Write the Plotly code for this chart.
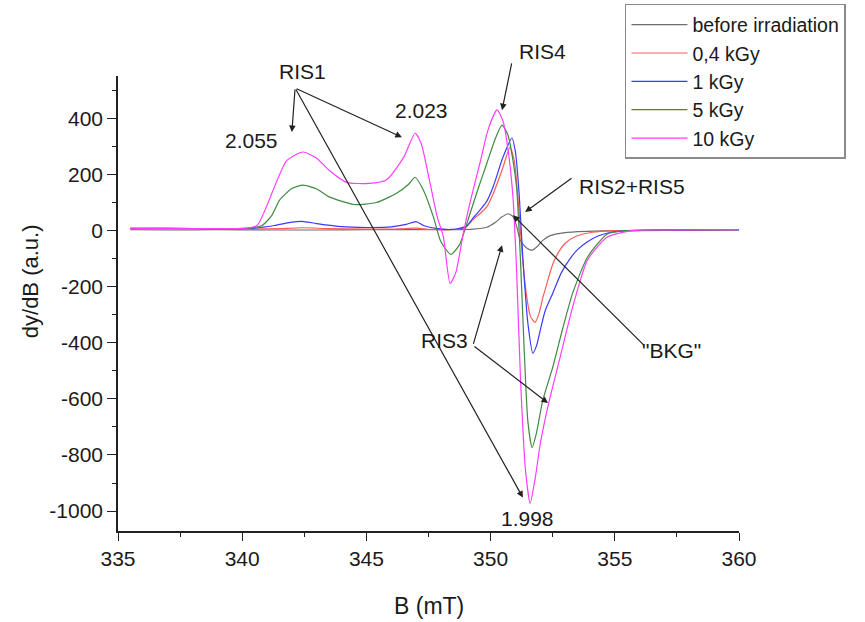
import plotly.graph_objects as go

# EPR first-derivative spectra of the sample before and after gamma irradiation
B_gray = [335.5, 337, 339, 341, 343, 345, 347, 348.5, 349.3, 349.85, 350.2, 350.45,
          350.7, 350.9, 351.05, 351.2, 351.45, 351.67, 351.9, 352.1, 352.4, 352.8,
          353.5, 354.5, 356, 358, 360]
y_gray = [3, 2, 3, 2, 2, 3, 3, 3, 5, 12, 30, 48,
          60, 50, 15, -35, -62, -70, -55, -35, -18, -10,
          -4, -1, 0, 1, 2]

B_red = [335.5, 337, 339, 340.5, 341.5, 342.4, 343.5, 345, 346.3, 347.0, 347.6,
         348.4, 349.0, 349.3, 349.57, 349.85, 350.1, 350.5, 350.78, 350.95, 351.1,
         351.25, 351.4, 351.6, 351.79, 351.95, 352.1, 352.27, 352.5, 352.75, 353.0,
         353.4, 354.1, 355, 356.5, 358, 360]
y_red = [6, 5, 5, 5, 7, 10, 7, 5, 6, 9, 4,
         3, 12, 40, 60, 85, 130, 226, 297, 250, 120,
         -60, -200, -305, -327, -295, -240, -188, -120, -75, -45,
         -22, -6, 0, 2, 2, 3]

B_blue = [335.5, 337, 339, 340.5, 341.3, 342.0, 342.4, 343, 344, 345, 346, 346.6,
          347.0, 347.3, 347.8, 348.4, 349.0, 349.3, 349.57, 349.85, 350.1, 350.5,
          350.86, 351.0, 351.15, 351.3, 351.5, 351.7, 351.85, 352.0, 352.2, 352.5,
          352.85, 353.2, 353.5, 353.9, 354.3, 354.8, 355.5, 357, 360]
y_blue = [8, 8, 7, 9, 18, 30, 33, 25, 14, 11, 13, 22,
          32, 18, 8, 4, 14, 45, 73, 105, 155, 262,
          330, 280, 130, -100, -330, -437, -410, -355, -285, -224,
          -150, -100, -68, -40, -20, -7, 0, 2, 3]

B_green = [335.5, 337, 339, 340.3, 340.8, 341.2, 341.5, 342.0, 342.45, 343.0, 343.5,
           344.5, 345.4, 346.2, 346.7, 346.96, 347.3, 347.7, 348.0, 348.4, 348.75,
           349.17, 349.5, 349.85, 350.2, 350.46, 350.7, 350.9, 351.05, 351.2, 351.35,
           351.5, 351.67, 351.85, 352.1, 352.5, 352.9, 353.3, 353.9, 354.7, 355.5,
           357, 360]
y_green = [8, 8, 7, 9, 18, 55, 108, 150, 162, 148, 120,
           93, 100, 132, 165, 190, 143, 48, -40, -85, -50,
           60, 150, 240, 330, 376, 340, 250, 150, -100, -420,
           -680, -773, -720, -605, -488, -350, -224, -95, -12, 0,
           2, 3]

B_mag = [335.5, 337, 339, 340.2, 340.6, 341.0, 341.24, 341.8, 342.45, 343.0, 343.5,
         344.2, 345.1, 345.8, 346.5, 346.96, 347.2, 347.56, 347.85, 348.1, 348.37,
         348.6, 348.9, 349.2, 349.57, 349.9, 350.26, 350.5, 350.7, 350.9, 351.05,
         351.2, 351.4, 351.59, 351.8, 352.0, 352.3, 352.8, 353.3, 353.9, 354.7,
         355.7, 357, 360]
y_mag = [8, 8, 7, 9, 18, 90, 143, 250, 280, 258, 215,
         172, 168, 180, 261, 347, 312, 170, 50, -23, -188,
         -150, -10, 110, 240, 360, 430, 390, 290, 120, -150,
         -520, -850, -972, -880, -760, -630, -451, -274, -105, -23,
         0, 2, 3]

series = [
    ("before irradiation", B_gray, y_gray, "#6e6e6e"),
    ("0,4 kGy", B_red, y_red, "#ff5a5a"),
    ("1 kGy", B_blue, y_blue, "#3a3aff"),
    ("5 kGy", B_green, y_green, "#3f8a3f"),
    ("10 kGy", B_mag, y_mag, "#ff3cff"),
]

y_ticks = [-1000, -800, -600, -400, -200, 0, 200, 400]
x_ticks = [335, 340, 345, 350, 355, 360]

FONT = "Liberation Sans, Arial, sans-serif"
TXT = "#1a1a1a"

fig = go.Figure()
for name, bx, by, col in series:
    fig.add_trace(go.Scatter(
        x=bx, y=by, mode="lines", name=name,
        line=dict(color=col, width=1.2, shape="spline", smoothing=0.6),
    ))

# arrows: (head_x, head_y, tail_x, tail_y)
arrows = [
    (342.0, 351, 342.13, 508),      # RIS1 -> 2.055
    (346.43, 333, 342.13, 508),     # RIS1 -> 2.023
    (351.30, -952, 342.13, 508),    # RIS1 -> 1.998
    (350.46, 429, 350.86, 601),     # RIS4
    (351.39, 66, 353.32, 190),      # RIS2+RIS5
    (350.46, -52, 349.29, -409),    # RIS3 (upper)
    (352.31, -615, 349.29, -409),   # RIS3 (lower)
    (350.9, 55, 356.22, -413),      # "BKG"
]
annotations = []
for hx, hy, tx, ty in arrows:
    annotations.append(dict(
        x=hx, y=hy, ax=tx, ay=ty, xref="x", yref="y", axref="x", ayref="y",
        text="", showarrow=True, arrowhead=2, arrowsize=1.1, arrowwidth=1.2,
        arrowcolor="#222222", standoff=0, startstandoff=0,
    ))

# peak labels inside the plotting range (data coordinates)
labels = [
    ("2.055", 340.39, 322),
    ("2.023", 347.2, 428),
    ("RIS2+RIS5", 355.69, 158),
    ("RIS3", 348.16, -391),
    ('"BKG"', 357.3, -427),
    ("1.998", 351.47, -1026),
]
for t, lx, ly in labels:
    annotations.append(dict(
        x=lx, y=ly, xref="x", yref="y", text=t, showarrow=False,
        xanchor="center", yanchor="middle",
        font=dict(family=FONT, size=21, color=TXT),
    ))

# labels above the top of the y range
for t, lx, py in [("RIS1", 342.41, 1.009), ("RIS4", 352.07, 1.053)]:
    annotations.append(dict(
        x=lx, y=py, xref="x", yref="paper", text=t, showarrow=False,
        xanchor="center", yanchor="middle",
        font=dict(family=FONT, size=21, color=TXT),
    ))

# axis titles
annotations.append(dict(
    x=-0.1417, y=0.549, xref="paper", yref="paper", text="dy/dB (a.u.)",
    textangle=-90, showarrow=False, xanchor="center", yanchor="middle",
    font=dict(family=FONT, size=22, color=TXT),
))
annotations.append(dict(
    x=0.5, y=-0.165, xref="paper", yref="paper", text="B (mT)",
    showarrow=False, xanchor="center", yanchor="middle",
    font=dict(family=FONT, size=23, color=TXT),
))

fig.update_layout(
    width=865, height=622,
    margin=dict(l=118, r=126, t=76, b=91, autoexpand=False),
    paper_bgcolor="white", plot_bgcolor="white",
    font=dict(family=FONT, size=21, color=TXT),
    annotations=annotations,
    showlegend=True,
    legend=dict(
        x=0.7225, y=0.9936, xref="container", yref="container",
        xanchor="left", yanchor="top",
        bgcolor="white", bordercolor="#8a8a8a", borderwidth=1.5,
        font=dict(family=FONT, size=19.5, color=TXT),
        tracegroupgap=0, itemwidth=56,
    ),
)
fig.update_xaxes(
    range=[335, 360], tickvals=x_ticks, ticktext=[str(v) for v in x_ticks],
    ticks="outside", ticklen=8, tickwidth=1.3, tickcolor="#222",
    minor=dict(tickvals=[337.5, 342.5, 347.5, 352.5, 357.5], ticks="outside",
               ticklen=4, tickwidth=1.2, tickcolor="#222"),
    showline=True, linecolor="#222", linewidth=1.5, mirror=False,
    showgrid=False, zeroline=False,
    tickfont=dict(family=FONT, size=21, color=TXT),
)
fig.update_yaxes(
    range=[-1071, 551], tickvals=y_ticks, ticktext=[str(v) for v in y_ticks],
    ticks="outside", ticklen=9, tickwidth=1.3, tickcolor="#222",
    minor=dict(tickvals=[-1100, -900, -700, -500, -300, -100, 100, 300, 500],
               ticks="outside", ticklen=4, tickwidth=1.2, tickcolor="#222"),
    showline=True, linecolor="#222", linewidth=1.5, mirror=False,
    showgrid=False, zeroline=False,
    tickfont=dict(family=FONT, size=21, color=TXT),
)

fig.write_html("out.html")
